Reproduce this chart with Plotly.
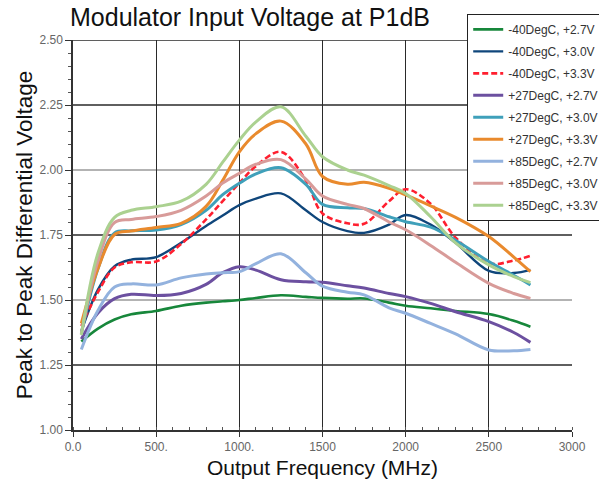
import plotly.graph_objects as go

# Output frequency grid (MHz)
freq = [50, 150, 250, 350, 500, 650, 800, 900, 1000, 1100, 1250, 1400,
        1500, 1650, 1750, 1900, 2000, 2150, 2300, 2500, 2650, 2750]

# Peak-to-peak differential voltage at P1dB for each temperature / supply
m40_27 = [1.34, 1.39, 1.425, 1.445, 1.458, 1.478, 1.49, 1.495, 1.50, 1.508, 1.518, 1.512,
          1.508, 1.505, 1.506, 1.49, 1.478, 1.468, 1.458, 1.446, 1.42, 1.397]
m40_30 = [1.38, 1.54, 1.63, 1.655, 1.665, 1.72, 1.785, 1.825, 1.865, 1.89, 1.91, 1.845,
          1.80, 1.765, 1.758, 1.79, 1.827, 1.79, 1.72, 1.612, 1.604, 1.616]
m40_33 = [1.40, 1.53, 1.625, 1.645, 1.648, 1.715, 1.81, 1.88, 1.95, 2.015, 2.07, 1.96,
          1.833, 1.795, 1.793, 1.88, 1.926, 1.87, 1.74, 1.641, 1.652, 1.670]
p27_27 = [1.35, 1.45, 1.505, 1.522, 1.517, 1.525, 1.56, 1.605, 1.628, 1.615, 1.578, 1.57,
          1.568, 1.555, 1.546, 1.525, 1.513, 1.487, 1.455, 1.417, 1.375, 1.337]
p27_30 = [1.37, 1.62, 1.758, 1.766, 1.769, 1.79, 1.845, 1.905, 1.949, 1.985, 2.009, 1.945,
          1.868, 1.855, 1.852, 1.82, 1.801, 1.78, 1.73, 1.648, 1.595, 1.558]
p27_33 = [1.41, 1.62, 1.752, 1.765, 1.779, 1.795, 1.86, 1.96, 2.07, 2.14, 2.188, 2.10,
          1.975, 1.945, 1.953, 1.93, 1.904, 1.862, 1.818, 1.744, 1.665, 1.609]
p85_27 = [1.31, 1.46, 1.55, 1.562, 1.558, 1.585, 1.60, 1.605, 1.609, 1.64, 1.678, 1.605,
          1.553, 1.53, 1.52, 1.47, 1.449, 1.41, 1.37, 1.308, 1.305, 1.31]
p85_30 = [1.37, 1.65, 1.798, 1.81, 1.821, 1.845, 1.90, 1.95, 1.987, 2.022, 2.04, 1.965,
          1.90, 1.868, 1.852, 1.80, 1.77, 1.71, 1.645, 1.564, 1.525, 1.506]
p85_33 = [1.365, 1.68, 1.818, 1.845, 1.859, 1.88, 1.945, 2.03, 2.115, 2.185, 2.243, 2.13,
          2.051, 2.00, 1.98, 1.94, 1.91, 1.82, 1.72, 1.635, 1.59, 1.567]

series_names = ["-40DegC, +2.7V", "-40DegC, +3.0V", "-40DegC, +3.3V",
                "+27DegC, +2.7V", "+27DegC, +3.0V", "+27DegC, +3.3V",
                "+85DegC, +2.7V", "+85DegC, +3.0V", "+85DegC, +3.3V"]
series_values = [m40_27, m40_30, m40_33, p27_27, p27_30, p27_33, p85_27, p85_30, p85_33]

x_ticks = [0, 500, 1000, 1500, 2000, 2500, 3000]
x_tick_text = ["0.0", "500.", "1000.", "1500", "2000", "2500", "3000"]
y_ticks = [1.00, 1.25, 1.50, 1.75, 2.00, 2.25, 2.50]
y_tick_text = ["1.00", "1.25", "1.50", "1.75", "2.00", "2.25", "2.50"]

colors = ["#17873b", "#0f467b", "#ff1f2f", "#6c50a0", "#3fa0ba",
          "#e98a2d", "#93b2de", "#d89b99", "#abd190"]
widths = [2.6, 2.4, 2.6, 3, 3, 3, 3, 3, 3]
dashes = ["solid", "solid", "6px,3px", "solid", "solid", "solid", "solid", "solid", "solid"]

narrow = "Liberation Sans Narrow, Arial Narrow, Liberation Sans, Arial"
sans = "Liberation Sans, Arial"

fig = go.Figure()
for i, (name, vals) in enumerate(zip(series_names, series_values)):
    fig.add_trace(go.Scatter(
        x=freq, y=vals, mode="lines", name=name, legendgroup=name,
        line=dict(color=colors[i], width=widths[i], dash=dashes[i],
                  shape="spline", smoothing=1.0),
    ))

# Alternating dark / grey horizontal grid lines
dark_levels = [1.25, 1.75, 2.25, 2.50]
grey_levels = [1.50, 2.00]
for lv in grey_levels:
    fig.add_shape(type="line", xref="paper", x0=0, x1=1, yref="y", y0=lv, y1=lv,
                  line=dict(color="#9a9a9a", width=1.3), layer="below")
for lv in dark_levels:
    fig.add_shape(type="line", xref="paper", x0=0, x1=1, yref="y", y0=lv, y1=lv,
                  line=dict(color="#2a2a2a", width=1.3), layer="below")

fig.update_layout(
    width=599, height=482,
    margin=dict(l=73, r=27, t=40, b=52, autoexpand=False),
    paper_bgcolor="white", plot_bgcolor="white",
    title=dict(text="Modulator Input Voltage at P1dB", x=70 / 599, xanchor="left",
               y=0.982, yanchor="top", font=dict(family=sans, size=25, color="#111")),
    showlegend=True,
    legend=dict(x=0.79, y=1.067, xanchor="left", yanchor="top",
                bgcolor="white", bordercolor="#222", borderwidth=1,
                font=dict(family=narrow, size=12, color="#333"),
                tracegroupgap=3, itemwidth=30),
    xaxis=dict(range=[0, 3000], tickvals=x_ticks, ticktext=x_tick_text,
               showgrid=True, gridcolor="#2a2a2a", gridwidth=1.3,
               showline=True, linecolor="#333", linewidth=1.5,
               ticks="outside", ticklen=5, tickcolor="#333",
               minor=dict(dtick=100, ticks="inside", ticklen=3, tickcolor="#555", showgrid=False),
               tickfont=dict(family=narrow, size=12, color="#666"),
               zeroline=False,
               title=dict(text="Output Frequency (MHz)", standoff=7,
                          font=dict(family=sans, size=21, color="#111"))),
    yaxis=dict(range=[1.0, 2.5], tickvals=y_ticks, ticktext=y_tick_text,
               showgrid=False,
               showline=True, linecolor="#333", linewidth=1.5,
               ticks="outside", ticklen=6, tickcolor="#333",
               minor=dict(dtick=0.05, ticks="outside", ticklen=3, tickcolor="#555", showgrid=False),
               tickfont=dict(family=narrow, size=12, color="#666"),
               zeroline=False,
               title=dict(text="Peak to Peak Differential Voltage", standoff=1,
                          font=dict(family=sans, size=22.5, color="#111"))),
)

fig.write_html("out.html")
